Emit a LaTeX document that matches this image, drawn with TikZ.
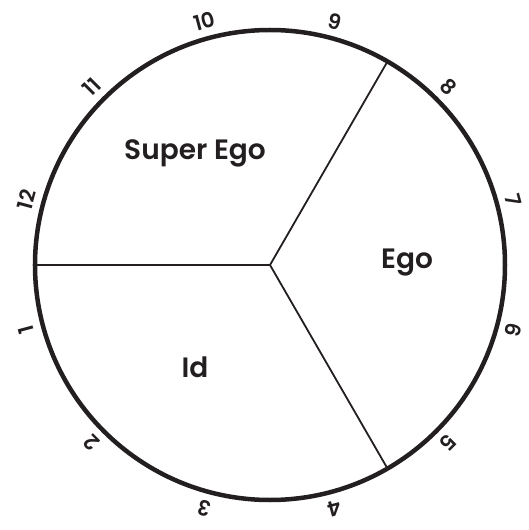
\documentclass[tikz,border=0pt]{standalone}
\usepackage{fontspec}
\setmainfont{Poppins}[BoldFont={* SemiBold}]
\usepackage{tikz}
\definecolor{PsyInk}{HTML}{231F20}

\begin{document}
\begin{tikzpicture}[x=1pt,y=1pt]
    \useasboundingbox (-270,-265) rectangle (259,265);
    \node[circle,draw=PsyInk,line width=4.5pt,minimum size=470pt,
      inner sep=0pt,outer sep=0pt] (rim) at (0,0) {};
    \coordinate (hub) at (0,0);
    \foreach \a in {60,180,300}{
      \draw[PsyInk,line width=1.8pt] (hub) -- (rim.\a);}
    % clock numbers round the rim
    \foreach \n in {1,...,12}{
      \pgfmathsetmacro\ang{30*\n-195}
      \node[font=\bfseries\fontsize{21}{23}\selectfont,text=PsyInk,rotate=\ang-90]
        (num\n) at (\ang:252) {\n};}
    \node[font=\bfseries\fontsize{28}{32}\selectfont,text=PsyInk] (superego) at (-75,112) {Super Ego};
    \node[font=\bfseries\fontsize{28}{32}\selectfont,text=PsyInk] (ego) at (137,2) {Ego};
    \node[font=\bfseries\fontsize{28}{32}\selectfont,text=PsyInk] (id) at (-75,-102) {Id};
  \end{tikzpicture}
\end{document}
